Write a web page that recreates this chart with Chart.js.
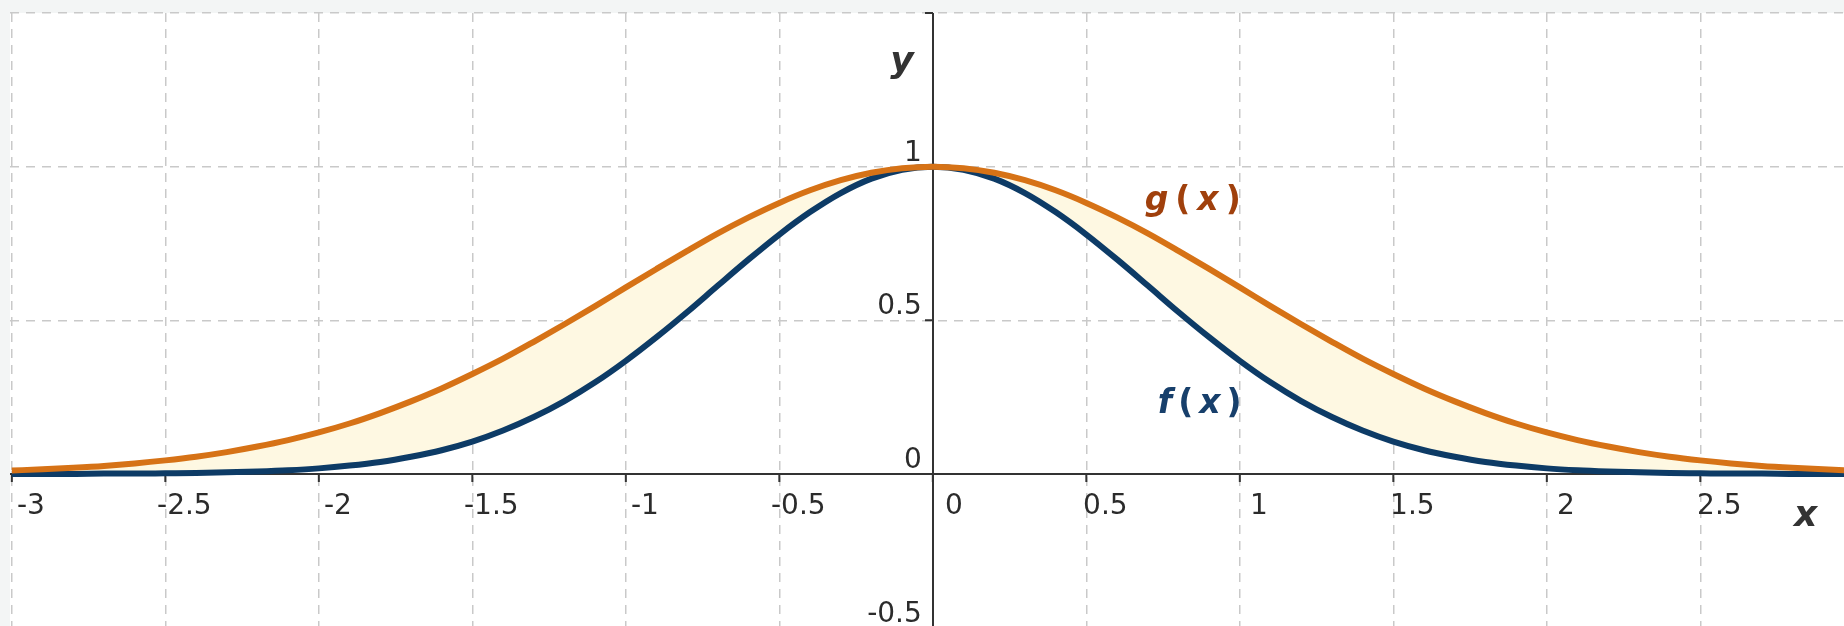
<!DOCTYPE html>
<html><head><meta charset="utf-8">
<script src="https://cdn.jsdelivr.net/npm/chart.js@4.4.1/dist/chart.umd.min.js"></script>
<style>html,body{margin:0;padding:0;background:#f3f5f5;overflow:hidden}canvas{display:block}</style>
</head><body>
<canvas id="c" width="1844" height="626"></canvas>
<script>
// sample positions along x
const xs = [-3.0,-2.9,-2.8,-2.7,-2.6,-2.5,-2.4,-2.3,-2.2,-2.1,-2.0,-1.9,-1.8,-1.7,-1.6,-1.5,-1.4,-1.3,-1.2,-1.1,-1.0,-0.9,-0.8,-0.7,-0.6,-0.5,-0.4,-0.3,-0.2,-0.1,0.0,0.1,0.2,0.3,0.4,0.5,0.6,0.7,0.8,0.9,1.0,1.1,1.2,1.3,1.4,1.5,1.6,1.7,1.8,1.9,2.0,2.1,2.2,2.3,2.4,2.5,2.6,2.7,2.8,2.9,3.0];
// f(x) values
const fVals = [0.000,0.000,0.000,0.001,0.001,0.002,0.003,0.005,0.008,0.012,0.018,0.027,0.039,0.056,0.077,0.105,0.141,0.185,0.237,0.298,0.368,0.445,0.527,0.613,0.698,0.779,0.852,0.914,0.961,0.990,1.000,0.990,0.961,0.914,0.852,0.779,0.698,0.613,0.527,0.445,0.368,0.298,0.237,0.185,0.141,0.105,0.077,0.056,0.039,0.027,0.018,0.012,0.008,0.005,0.003,0.002,0.001,0.001,0.000,0.000,0.000];
// g(x) values
const gVals = [0.011,0.015,0.020,0.026,0.034,0.044,0.056,0.071,0.089,0.110,0.135,0.164,0.198,0.236,0.278,0.325,0.375,0.430,0.487,0.546,0.607,0.667,0.726,0.783,0.835,0.882,0.923,0.956,0.980,0.995,1.000,0.995,0.980,0.956,0.923,0.882,0.835,0.783,0.726,0.667,0.607,0.546,0.487,0.430,0.375,0.325,0.278,0.236,0.198,0.164,0.135,0.110,0.089,0.071,0.056,0.044,0.034,0.026,0.020,0.015,0.011];
// axis ticks
const xTickValues = [-3,-2.5,-2,-1.5,-1,-0.5,0,0.5,1,1.5,2,2.5];
const xTickLabels = ['-3','-2.5','-2','-1.5','-1','-0.5','0','0.5','1','1.5','2','2.5'];
const yTickValues = [-0.5,0,0.5,1,1.5];
const yTickLabels = ['-0.5','0','0.5','1',''];
const seriesNames = ['f(x)','g(x)'];

const FONT = "'DejaVu Sans', 'Liberation Sans', sans-serif";

const bgPlugin = {
  id: 'bg',
  beforeDraw(chart) {
    const {ctx, chartArea: a} = chart;
    ctx.save();
    ctx.fillStyle = '#f3f5f5';
    ctx.fillRect(0, 0, chart.width, chart.height);
    ctx.fillStyle = '#ffffff';
    ctx.fillRect(a.left, a.top, a.right - a.left, a.bottom - a.top);
    ctx.restore();
  }
};

function drawSpaced(ctx, parts, x, y, gap) {
  let cx = x;
  parts.forEach(p => {
    ctx.font = p.font;
    ctx.fillText(p.t, cx, y);
    cx += ctx.measureText(p.t).width + gap;
  });
}

const axesPlugin = {
  id: 'geoAxes',
  beforeDatasetsDraw(chart) {
    const {ctx, chartArea: a, scales: {x, y}} = chart;
    const x0 = Math.round(x.getPixelForValue(0));
    const y0 = Math.round(y.getPixelForValue(0));
    ctx.save();
    ctx.strokeStyle = '#333333';
    ctx.lineWidth = 2;
    ctx.beginPath();
    ctx.moveTo(a.left, y0); ctx.lineTo(a.right, y0);
    ctx.moveTo(x0, a.top); ctx.lineTo(x0, a.bottom);
    xTickValues.forEach(v => {
      const p = x.getPixelForValue(v);
      ctx.moveTo(p, y0); ctx.lineTo(p, y0 + 8);
    });
    yTickValues.forEach(v => {
      const p = y.getPixelForValue(v);
      ctx.moveTo(x0, p); ctx.lineTo(x0 - 8, p);
    });
    ctx.stroke();
    ctx.restore();
  },
  afterDatasetsDraw(chart) {
    const {ctx, chartArea: a, scales: {x, y}} = chart;
    const x0 = x.getPixelForValue(0);
    const y0 = y.getPixelForValue(0);
    ctx.save();
    ctx.fillStyle = '#2b2b2b';
    ctx.font = '28px ' + FONT;
    ctx.textBaseline = 'alphabetic';
    ctx.textAlign = 'center';
    xTickValues.forEach((v, i) => {
      const p = x.getPixelForValue(v);
      let cx = p + 19;
      if (v === 0) cx = p + 21;
      ctx.fillText(xTickLabels[i], cx, y0 + 40);
    });
    ctx.textAlign = 'right';
    yTickValues.forEach((v, i) => {
      if (!yTickLabels[i]) return;
      const p = y.getPixelForValue(v);
      ctx.fillText(yTickLabels[i], x0 - 11, p - 6);
    });
    // axis names
    ctx.fillStyle = '#333333';
    ctx.font = 'italic bold 36px ' + FONT;
    ctx.textAlign = 'left';
    ctx.fillText('x', a.right - 50, y0 + 52);
    ctx.textAlign = 'right';
    ctx.fillText('y', x0 - 19, y.getPixelForValue(1.5) + 59);
    // curve names
    ctx.textAlign = 'left';
    const bi = 'italic bold 33px ' + FONT, b = 'bold 33px ' + FONT;
    ctx.fillStyle = '#a0400c';
    drawSpaced(ctx, [{t:'g',font:bi},{t:'(',font:b},{t:'x',font:bi},{t:')',font:b}],
      x.getPixelForValue(0.69), y.getPixelForValue(0.86), 7);
    ctx.fillStyle = '#173f6b';
    drawSpaced(ctx, [{t:'f',font:bi},{t:'(',font:b},{t:'x',font:bi},{t:')',font:b}],
      x.getPixelForValue(0.733), y.getPixelForValue(0.199), 6);
    ctx.restore();
  }
};

const fData = xs.map((v, i) => ({x: v, y: fVals[i]}));
const gData = xs.map((v, i) => ({x: v, y: gVals[i]}));

const gridDash = [9, 7];

new Chart(document.getElementById('c'), {
  type: 'line',
  data: {
    datasets: [
      { label: seriesNames[0], data: fData, borderColor: '#0d3b66', borderWidth: 6,
        pointRadius: 0, fill: false, cubicInterpolationMode: 'monotone', order: 2 },
      { label: seriesNames[1], data: gData, borderColor: '#d67216', borderWidth: 6,
        pointRadius: 0, cubicInterpolationMode: 'monotone', order: 1,
        fill: { target: 0 }, backgroundColor: '#fef8e2' }
    ]
  },
  options: {
    responsive: false,
    animation: false,
    events: [],
    layout: { padding: { left: 10, top: 13, right: 0, bottom: 0 } },
    plugins: {
      legend: { display: false },
      tooltip: { enabled: false },
      filler: { drawTime: 'beforeDatasetsDraw' }
    },
    scales: {
      x: {
        type: 'linear', min: -3.006, max: 2.968,
        ticks: { display: false, stepSize: 0.5, includeBounds: false },
        grid: { color: '#c9c9c9', lineWidth: 1.5, drawTicks: false },
        border: { display: false, dash: gridDash },
        afterFit(s) { s.height = 0; }
      },
      y: {
        type: 'linear', min: -0.495, max: 1.5,
        ticks: { display: false, stepSize: 0.5, includeBounds: false },
        grid: { color: '#c9c9c9', lineWidth: 1.5, drawTicks: false },
        border: { display: false, dash: gridDash },
        afterFit(s) { s.width = 0; }
      }
    }
  },
  plugins: [bgPlugin, axesPlugin]
});
</script>
</body></html>
